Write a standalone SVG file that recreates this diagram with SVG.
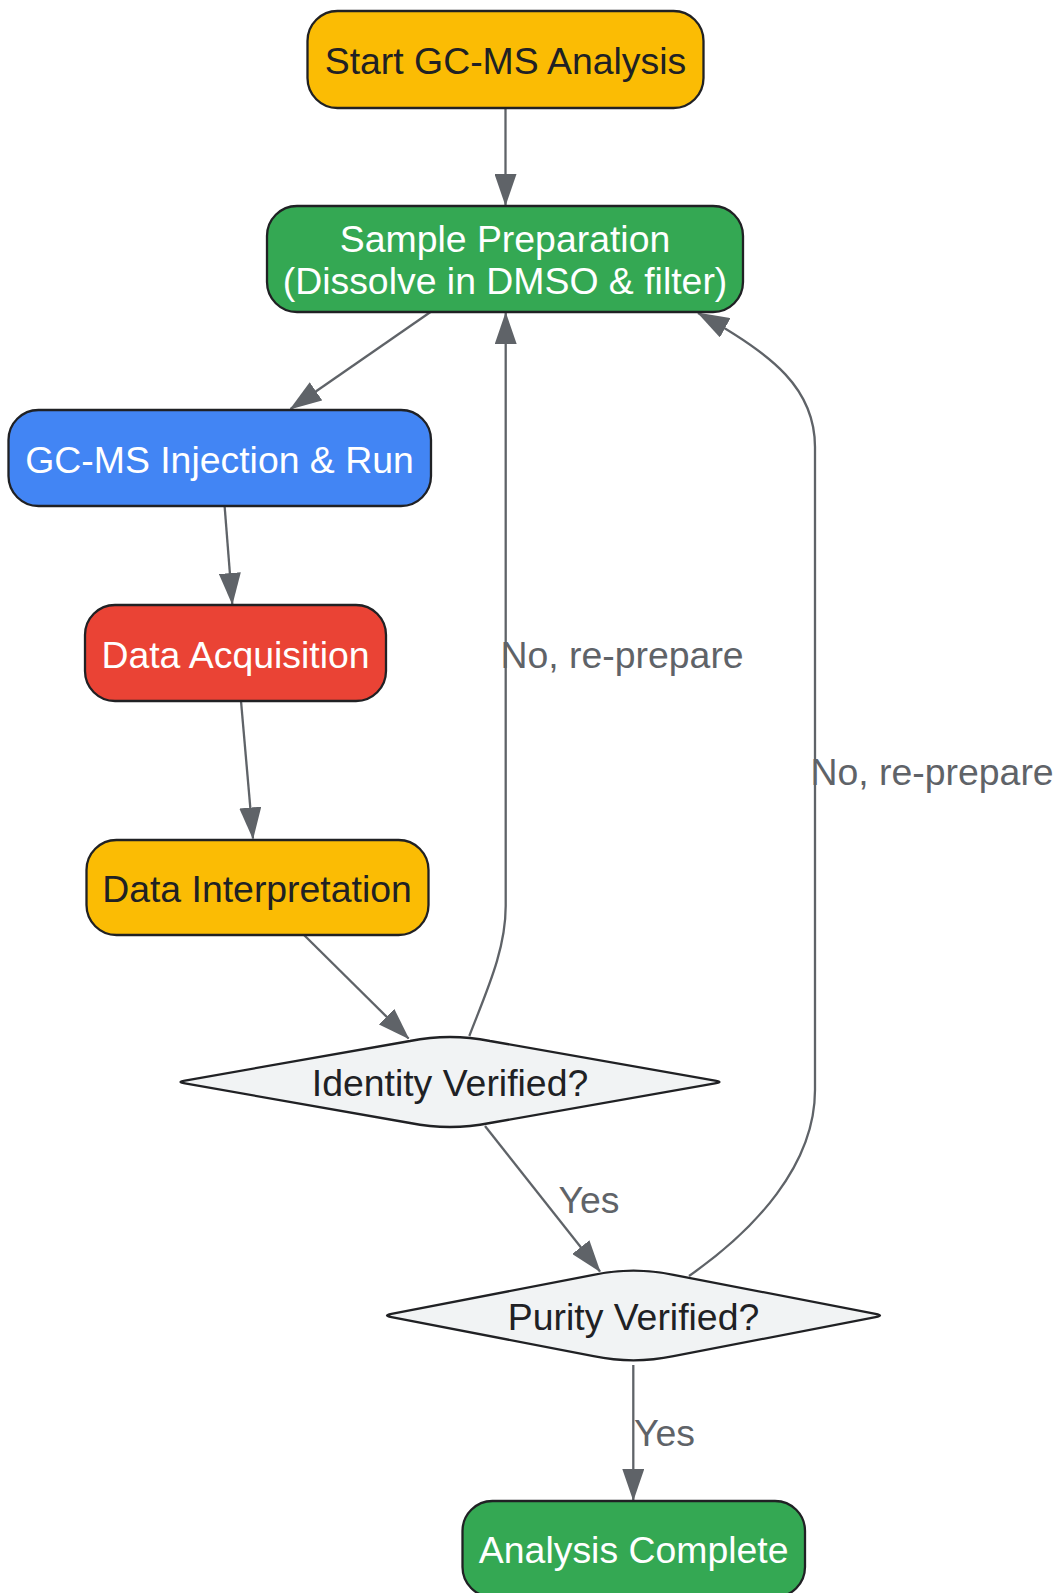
<svg xmlns="http://www.w3.org/2000/svg" width="1056" height="1593" viewBox="0 0 1056 1593">
<style>
.node rect, .node path { stroke: #202124; stroke-width: 2.3; }
.t { font-family: "Liberation Sans", Arial, sans-serif; font-size: 37.4px; text-anchor: middle; }
.dark { fill: #202124; }
.light { fill: #ffffff; }
.edge { fill: none; stroke: #5f6368; stroke-width: 2.3; marker-end: url(#arrow); }
.lbl { font-family: "Liberation Sans", Arial, sans-serif; font-size: 37.4px; fill: #5f6368; text-anchor: start; }
</style>
<defs>
<marker id="arrow" markerUnits="userSpaceOnUse" markerWidth="32" markerHeight="22" viewBox="0 0 32 22" refX="31" refY="11" orient="auto">
<path d="M0,0 L32,11 L0,22 z" fill="#5f6368"/>
</marker>
</defs>
<rect width="1056" height="1593" fill="#ffffff"/>
<g id="connectors">
<path class="edge" d="M505.5,108 L505.5,205"/>
<path class="edge" d="M430.5,312 L290.5,409"/>
<path class="edge" d="M224.6,506 L232.3,604"/>
<path class="edge" d="M241,701 L253,838.5"/>
<path class="edge" d="M304,935 L408.6,1038.5"/>
<path class="edge" d="M469.3,1036 C487,990 505.7,950 505.7,906 L505.7,313"/>
<path class="edge" d="M689,1276 C755,1230 815,1165 815,1090 L815,447 C815,390 775,355 698,313"/>
<path class="edge" d="M485,1126 L600,1271.5"/>
<path class="edge" d="M633.3,1365 L633.3,1500"/>
<text class="lbl" x="500.5" y="667.5">No, re-prepare</text>
<text class="lbl" x="810.5" y="784.5">No, re-prepare</text>
<text class="lbl" x="558.5" y="1213">Yes</text>
<text class="lbl" x="634" y="1446">Yes</text>
</g>
<g id="start" class="node">
<rect x="307.5" y="11" width="396" height="97" rx="30" ry="30" fill="#fbbc04"/>
<text class="t dark" x="505.5" y="74">Start GC-MS Analysis</text>
</g>
<g id="sample" class="node">
<rect x="267" y="206" width="476" height="106" rx="30" ry="30" fill="#34a853"/>
<text class="t light" x="505" y="252">Sample Preparation</text>
<text class="t light" x="505" y="293.5">(Dissolve in DMSO &amp; filter)</text>
</g>
<g id="injection" class="node">
<rect x="8.5" y="410" width="422.5" height="96" rx="30" ry="30" fill="#4285f4"/>
<text class="t light" x="219.5" y="472.5">GC-MS Injection &amp; Run</text>
</g>
<g id="acquisition" class="node">
<rect x="85" y="605" width="301" height="96" rx="30" ry="30" fill="#ea4335"/>
<text class="t light" x="235.5" y="667.5">Data Acquisition</text>
</g>
<g id="interpretation" class="node">
<rect x="86.5" y="840" width="342" height="95" rx="30" ry="30" fill="#fbbc04"/>
<text class="t dark" x="257" y="901.5">Data Interpretation</text>
</g>
<g id="identity" class="node">
<path d="M185,1080.6 L410,1041 Q450,1033 490,1041 L715,1080.6 Q724,1082 715,1083.4 L490,1123 Q450,1131 410,1123 L185,1083.4 Q176,1082 185,1080.6 Z" fill="#f1f3f4"/>
<text class="t dark" x="450" y="1096">Identity Verified?</text>
</g>
<g id="purity" class="node">
<path d="M391.5,1313.9 L593.5,1274.8 Q633.5,1266.5 673.5,1274.8 L875.5,1313.9 Q884.5,1315.5 875.5,1317.1 L673.5,1356.2 Q633.5,1364.5 593.5,1356.2 L391.5,1317.1 Q382.5,1315.5 391.5,1313.9 Z" fill="#f1f3f4"/>
<text class="t dark" x="633.5" y="1330">Purity Verified?</text>
</g>
<g id="complete" class="node">
<rect x="462.5" y="1501" width="342.5" height="96" rx="30" ry="30" fill="#34a853"/>
<text class="t light" x="633.7" y="1563">Analysis Complete</text>
</g>
</svg>
